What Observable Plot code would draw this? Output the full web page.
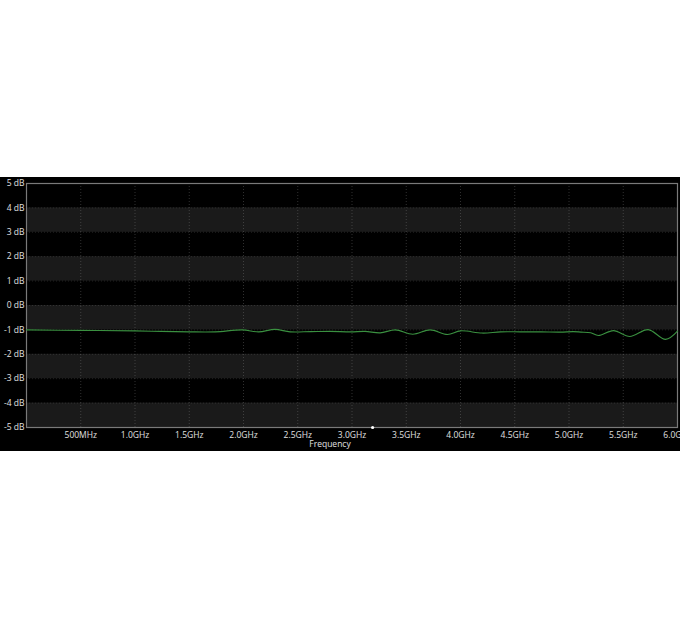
<!DOCTYPE html>
<html>
<head>
<meta charset="utf-8">
<script src="https://cdn.jsdelivr.net/npm/d3@7"></script>
<script src="https://cdn.jsdelivr.net/npm/@observablehq/plot@0.6"></script>
<style>
  html, body { margin: 0; padding: 0; background: #fff; }
  body { width: 680px; height: 630px; overflow: hidden; }
  #chart { position: absolute; left: 0; top: 177px; width: 680px; height: 274px; overflow: hidden; background: #000; }
  #chart svg { overflow: hidden; }
</style>
</head>
<body>
<div id="chart"></div>
<script>
// Frequency (GHz) and level (dB) of the trace
const freqGHz = [0.0, 0.5, 1.0, 1.24, 1.5, 1.74, 1.99, 2.14, 2.29, 2.43, 2.62, 2.80, 2.99, 3.12, 3.26, 3.40, 3.56, 3.72, 3.88, 4.00, 4.20, 4.37, 4.55, 4.74, 4.92, 5.04, 5.11, 5.20, 5.27, 5.41, 5.56, 5.73, 5.89, 6.0];
const levelDB = [-1.00, -1.02, -1.04, -1.06, -1.08, -1.08, -1.00, -1.08, -0.98, -1.08, -1.07, -1.06, -1.08, -1.06, -1.12, -1.00, -1.18, -1.00, -1.19, -1.04, -1.13, -1.08, -1.08, -1.08, -1.09, -1.07, -1.09, -1.12, -1.23, -1.03, -1.27, -0.99, -1.39, -1.05];

// Axis ticks
const xTicks = [0.5, 1.0, 1.5, 2.0, 2.5, 3.0, 3.5, 4.0, 4.5, 5.0, 5.5, 6.0];
const xTickLabels = ["500MHz", "1.0GHz", "1.5GHz", "2.0GHz", "2.5GHz", "3.0GHz", "3.5GHz", "4.0GHz", "4.5GHz", "5.0GHz", "5.5GHz", "6.0GHz"];
const yTicks = [5, 4, 3, 2, 1, 0, -1, -2, -3, -4, -5];
const yTickLabels = ["5 dB", "4 dB", "3 dB", "2 dB", "1 dB", "0 dB", "-1 dB", "-2 dB", "-3 dB", "-4 dB", "-5 dB"];

// Shaded bands (lower edge, 1 dB tall)
const bandLow = [3, 1, -1, -3, -5];
// marker on the frequency axis
const markerGHz = [3.19];

const trace = freqGHz.map((f, i) => ({f, v: levelDB[i]}));
const xLab = new Map(xTicks.map((t, i) => [t, xTickLabels[i]]));
const yLab = new Map(yTicks.map((t, i) => [t, yTickLabels[i]]));

const font = "'Open Sans', 'Noto Sans', sans-serif";

const chart = Plot.plot({
  width: 680,
  height: 274,
  marginLeft: 26,
  marginRight: 3,
  marginTop: 6,
  marginBottom: 24,
  style: {background: "#000", color: "#e0e0e0", fontFamily: font, fontSize: "8.5px", overflow: "hidden"},
  x: {domain: [0, 6]},
  y: {domain: [-5, 5]},
  marks: [
    Plot.rect(bandLow, {y1: d => d, y2: d => d + 1, fill: "#1a1a1a"}),
    Plot.gridX(xTicks, {stroke: "#8a8a8a", strokeOpacity: 0.35, strokeDasharray: "1,2"}),
    Plot.gridY(yTicks, {stroke: "#8a8a8a", strokeOpacity: 0.22, strokeDasharray: "1,2"}),
    Plot.frame({stroke: "#7a7a7a", strokeWidth: 1.2}),
    Plot.axisY(yTicks, {tickSize: 0, tickPadding: 2, tickFormat: d => yLab.get(d), label: null, fill: "#e0e0e0", fontSize: 8.5}),
    Plot.axisX(xTicks, {tickSize: 0, tickPadding: 4, tickFormat: d => xLab.get(d), label: null, fill: "#e0e0e0", fontSize: 8.5}),
    Plot.text(["Frequency"], {frameAnchor: "bottom", dx: -22, dy: 19, fill: "#e0e0e0", fontSize: 8.5}),
    Plot.dot(markerGHz, {x: d => d, frameAnchor: "bottom", r: 1.6, fill: "#fff", stroke: null}),
    Plot.line(trace, {x: "f", y: "v", stroke: "#3a9040", strokeWidth: 1.1, curve: "catmull-rom"})
  ]
});
document.getElementById("chart").appendChild(chart);
</script>
</body>
</html>
